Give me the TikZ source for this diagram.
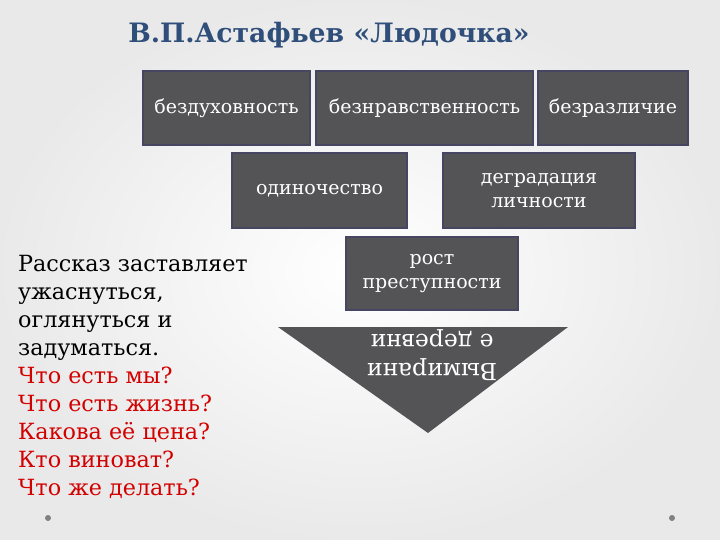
\documentclass[tikz,border=0pt]{standalone}
\usepackage{fontspec}
\setmainfont{DejaVu Serif}
\definecolor{titleblue}{RGB}{47,79,122}
\definecolor{cardfill}{RGB}{84,84,86}
\definecolor{cardedge}{RGB}{70,70,98}
\definecolor{askred}{RGB}{210,0,0}
\tikzset{
  card/.style={draw=cardedge, line width=1.5pt, fill=cardfill, text=white,
    align=center, inner sep=0pt, font=\fontsize{19}{24}\selectfont},
}
\begin{document}
\begin{tikzpicture}[x=1pt, y=-1pt]
    \useasboundingbox (0,0) rectangle (720,540);
    \shade[inner color=white, middle color=white, outer color=gray!17] (0,0) rectangle (720,540);

    \node[font=\bfseries\fontsize{26.7}{30}\selectfont, text=titleblue, anchor=base]
      (title) at (329,43) {В.П.Астафьев «Людочка»};

    % first row
    \node[card, minimum width=167pt, minimum height=74pt] (spirit) at (226.5,108) {бездуховность};
    \node[card, minimum width=217pt, minimum height=74pt] (moral) at (424.5,108) {безнравственность};
    \node[card, minimum width=150pt, minimum height=74pt] (indiff) at (613,108) {безразличие};

    % second row
    \node[card, minimum width=175pt, minimum height=75pt] (alone) at (319.5,190.5) {одиночество};
    \node[card, minimum width=192pt, minimum height=75pt] (degrad) at (539,190.5) {деградация\\личности};

    % third row
    \node[card, minimum width=172pt, minimum height=73pt] (crime) at (432,273.5) {рост\\преступности};

    \fill[cardfill] (278,327) -- (568,327) -- (428,433) -- cycle;
    \node[text=white, align=center, rotate=180, font=\fontsize{23.5}{29}\selectfont]
      (village) at (432,355) {Вымирани\\е деревни};

    \node[anchor=north west, align=left, inner sep=0pt, font=\fontsize{22.3}{28}\selectfont]
      (story) at (18,255) {Рассказ заставляет\\ужаснуться,\\оглянуться и\\задуматься.\\
      \color{askred}Что есть мы?\\\color{askred}Что есть жизнь?\\\color{askred}Какова её цена?\\
      \color{askred}Кто виноват?\\\color{askred}Что же делать?};

    \fill[gray] (48,518) circle (3);
    \fill[gray] (672,518) circle (3);
\end{tikzpicture}
\end{document}
